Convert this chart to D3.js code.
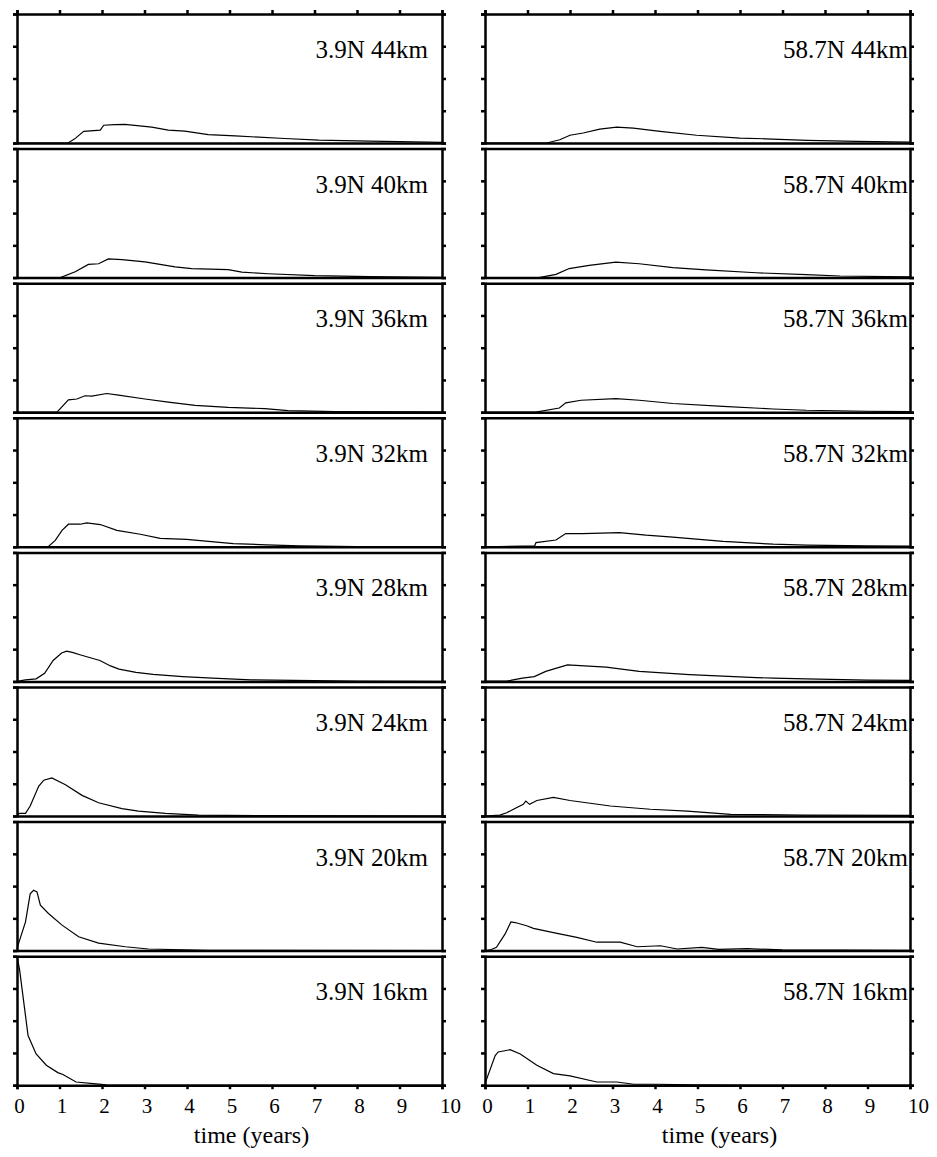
<!DOCTYPE html>
<html>
<head>
<meta charset="utf-8">
<script src="https://cdn.jsdelivr.net/npm/d3@7"></script>
<style>
body { margin: 0; background: #fff; }
svg text { font-family: "Liberation Serif", "Times New Roman", serif; fill: #000; }
</style>
</head>
<body>
<div id="chart"></div>
<script>
// panel titles
var latitudes = ["3.9N", "58.7N"];
var altitudes = [44, 40, 36, 32, 28, 24, 20, 16];
var yearTicks = [0, 1, 2, 3, 4, 5, 6, 7, 8, 9, 10];
var amountTicks = [0, 1, 2, 3, 4];

// [time (years), amount]
var eq44 = [[0,0],[1.2,0],[1.35,0.12],[1.57,0.36],[1.96,0.40],[2.04,0.55],[2.3,0.57],[2.54,0.58],[3.17,0.49],[3.56,0.40],[3.95,0.37],[4.5,0.26],[5.13,0.22],[6.3,0.14],[7.1,0.09],[8.3,0.06],[10,0.02]];
var eq40 = [[0,0],[1.02,0],[1.37,0.18],[1.68,0.41],[1.92,0.43],[2.15,0.58],[2.47,0.56],[3.01,0.49],[3.72,0.33],[4.11,0.28],[4.97,0.25],[5.29,0.17],[5.91,0.12],[7.0,0.06],[8.3,0.03],[10,0.01]];
var eq36 = [[0,0],[0.94,0],[1.21,0.38],[1.41,0.41],[1.6,0.51],[1.76,0.5],[2.11,0.58],[2.39,0.53],[3.01,0.41],[3.56,0.31],[4.19,0.21],[4.97,0.15],[5.83,0.11],[6.38,0.05],[7.5,0.02],[10,0.01]];
var eq32 = [[0,0],[0.74,0.01],[0.9,0.2],[1.06,0.51],[1.21,0.7],[1.49,0.7],[1.64,0.74],[1.96,0.69],[2.35,0.51],[2.9,0.39],[3.37,0.26],[3.99,0.23],[5.09,0.1],[5.87,0.06],[6.65,0.03],[8,0.01],[10,0.01]];
var eq28 = [[0,0],[0.2,0.05],[0.45,0.08],[0.65,0.25],[0.85,0.65],[1.05,0.88],[1.17,0.94],[1.3,0.9],[1.5,0.82],[1.95,0.65],[2.2,0.48],[2.4,0.38],[2.8,0.28],[3.2,0.22],[3.9,0.15],[4.6,0.1],[5.5,0.05],[6.5,0.03],[8,0.01],[10,0]];
var eq24 = [[0,0],[0.05,0.08],[0.2,0.08],[0.31,0.31],[0.51,0.92],[0.63,1.11],[0.82,1.18],[1.14,0.97],[1.53,0.64],[1.92,0.41],[2.47,0.23],[2.86,0.15],[3.49,0.08],[4.27,0.03],[6,0.01],[10,0]];
var eq20 = [[0,0.07],[0.2,0.89],[0.31,1.76],[0.39,1.87],[0.47,1.82],[0.55,1.41],[0.74,1.15],[1.06,0.79],[1.45,0.43],[1.92,0.23],[2.55,0.12],[3.09,0.05],[4.5,0.01],[10,0]];
var eq16 = [[0,4.0],[0.06,3.59],[0.14,2.77],[0.26,1.54],[0.45,0.97],[0.69,0.62],[0.96,0.39],[1.08,0.33],[1.39,0.10],[1.86,0.04],[2.1,0.01],[10,0]];

var hi44 = [[0,0],[1.45,0],[1.76,0.10],[2.0,0.24],[2.31,0.31],[2.7,0.43],[3.1,0.49],[3.49,0.46],[4.12,0.36],[4.98,0.24],[6.0,0.15],[6.6,0.13],[7.58,0.08],[8.76,0.05],[10,0.03]];
var hi40 = [[0,0],[1.27,0],[1.67,0.10],[1.98,0.28],[2.45,0.38],[3.08,0.48],[3.63,0.43],[4.42,0.31],[5.2,0.24],[6.38,0.15],[7.56,0.09],[8.35,0.05],[10,0.02]];
var hi36 = [[0,0],[1.19,0],[1.75,0.13],[1.9,0.29],[2.26,0.37],[3.08,0.42],[3.63,0.37],[4.42,0.27],[5.6,0.18],[6.78,0.10],[7.56,0.06],[9,0.03],[10,0.02]];
var hi32 = [[0,0],[0.9,0.02],[1.17,0.03],[1.2,0.13],[1.67,0.21],[1.9,0.41],[2.3,0.41],[3.16,0.44],[3.79,0.36],[4.42,0.30],[5.6,0.17],[6.78,0.08],[7.56,0.05],[9,0.03],[10,0.02]];
var hi28 = [[0,0.01],[0.5,0.01],[0.6,0.03],[0.88,0.10],[1.16,0.15],[1.43,0.31],[1.94,0.51],[2.85,0.44],[3.63,0.31],[4.81,0.21],[6.38,0.12],[6.78,0.1],[7.56,0.08],[9,0.04],[10,0.03]];
var hi24 = [[0,0],[0.35,0.03],[0.51,0.10],[0.67,0.21],[0.9,0.36],[0.96,0.46],[1.05,0.36],[1.22,0.48],[1.61,0.58],[2.0,0.48],[2.95,0.31],[3.89,0.21],[4.76,0.15],[5.78,0.05],[7.5,0.03],[10,0.02]];
var hi20 = [[0,0],[0.12,0.02],[0.27,0.10],[0.47,0.51],[0.61,0.89],[0.71,0.87],[0.98,0.77],[1.14,0.69],[1.61,0.56],[2.16,0.41],[2.63,0.26],[3.18,0.26],[3.58,0.12],[4.13,0.15],[4.52,0.05],[5.1,0.10],[5.5,0.04],[6.17,0.06],[7,0.02],[10,0.01]];
var hi16 = [[0,0.05],[0.24,0.92],[0.31,1.03],[0.59,1.10],[0.83,0.97],[1.22,0.62],[1.61,0.36],[2.0,0.29],[2.63,0.10],[3.1,0.10],[3.5,0.03],[4.0,0.03],[5,0.01],[10,0]];

// rows top to bottom, columns left/right
var series = [
  [eq44, hi44], [eq40, hi40], [eq36, hi36], [eq32, hi32],
  [eq28, hi28], [eq24, hi24], [eq20, hi20], [eq16, hi16]
];

// layout
var colX = [17, 485],
    labelInset = [14, 2],
    panelW = 425,
    panelH = 129,
    pitch = 134.6,
    topY = 14;

var svg = d3.select("#chart")
  .append("svg")
    .attr("width", 937)
    .attr("height", 1157);

var x = d3.scaleLinear().domain([0, 10]).range([0, panelW]);
var y = d3.scaleLinear().domain([0, 4]).range([panelH, 0]);

var line = d3.line()
  .x(function(d) { return x(d[0]); })
  .y(function(d) { return y(d[1]); });

function styleAxis(g) {
  g.selectAll("path, line")
    .attr("stroke", "#000")
    .attr("stroke-width", 2.5);
}

altitudes.forEach(function(alt, r) {
  latitudes.forEach(function(lat, c) {
    var g = svg.append("g")
      .attr("transform", "translate(" + colX[c] + "," + (topY + r * pitch) + ")");

    // curve
    g.append("path")
      .datum(series[r][c])
      .attr("d", line)
      .attr("fill", "none")
      .attr("stroke", "#000")
      .attr("stroke-width", 1.2);

    // panel title
    g.append("text")
      .attr("x", panelW - labelInset[c])
      .attr("y", 44)
      .attr("text-anchor", "end")
      .style("font-size", "25px")
      .text(lat + " " + alt + "km");

    // frame: left/right with outward ticks
    g.append("g")
      .call(d3.axisLeft(y).tickValues(amountTicks).tickSize(4).tickFormat(""))
      .call(styleAxis);
    g.append("g")
      .attr("transform", "translate(" + panelW + ",0)")
      .call(d3.axisRight(y).tickValues(amountTicks).tickSize(4).tickFormat(""))
      .call(styleAxis);

    // top edge (ticks only on the first row)
    g.append("g")
      .call(d3.axisTop(x).tickValues(yearTicks).tickSize(r === 0 ? 4 : 0).tickFormat(""))
      .call(styleAxis);

    // bottom edge (ticks and labels only on the last row)
    var last = r === altitudes.length - 1;
    var bottom = g.append("g")
      .attr("transform", "translate(0," + panelH + ")")
      .call(d3.axisBottom(x).tickValues(yearTicks).tickSize(last ? 4 : 0)
        .tickPadding(9).tickFormat(last ? d3.format("d") : ""))
      .call(styleAxis);
    bottom.selectAll("text")
      .attr("dx", function(d) { return d === 10 ? 8 : 2; })
      .style("font-size", "21px")
      .style("font-family", "'Liberation Serif', serif");

    if (last) {
      g.append("text")
        .attr("x", panelW / 2 + 22)
        .attr("y", panelH + 58)
        .attr("text-anchor", "middle")
        .style("font-size", "24px")
        .text("time (years)");
    }
  });
});
</script>
</body>
</html>
